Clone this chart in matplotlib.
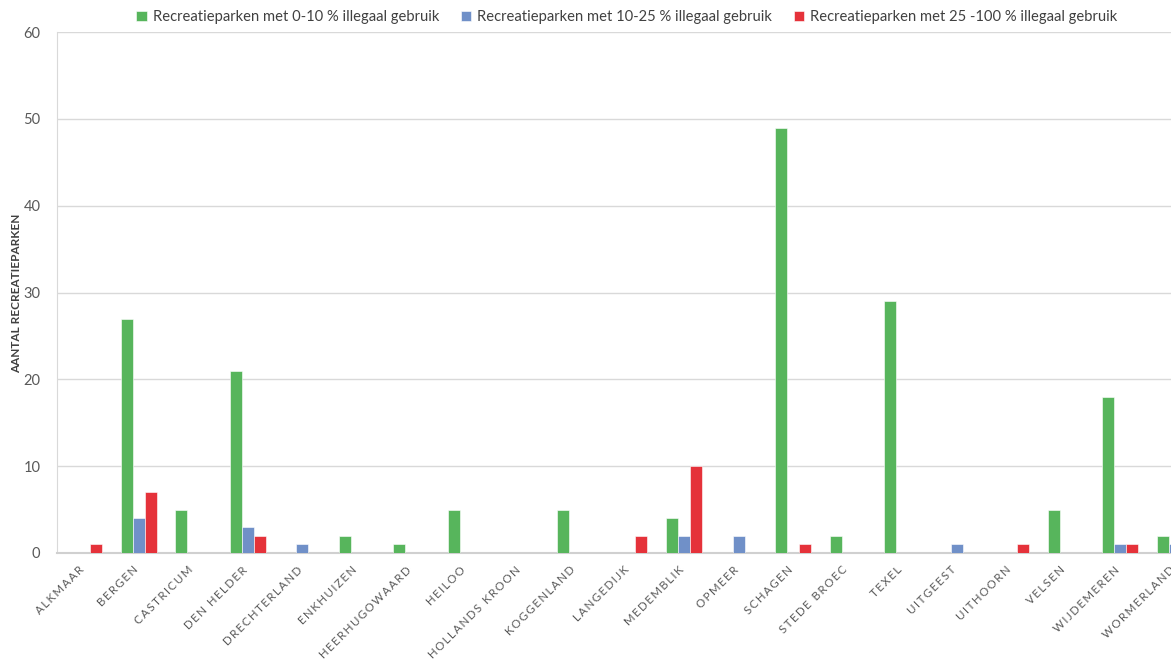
import matplotlib
matplotlib.use("Agg")
import matplotlib.pyplot as plt
import matplotlib.transforms as mtransforms
import numpy as np

categories = ["ALKMAAR", "BERGEN", "CASTRICUM", "DEN HELDER", "DRECHTERLAND", "ENKHUIZEN",
              "HEERHUGOWAARD", "HEILOO", "HOLLANDS KROON", "KOGGENLAND", "LANGEDIJK",
              "MEDEMBLIK", "OPMEER", "SCHAGEN", "STEDE BROEC", "TEXEL", "UITGEEST",
              "UITHOORN", "VELSEN", "WIJDEMEREN", "WORMERLAND"]
s_low = [0, 27, 5, 21, 0, 2, 1, 5, 0, 5, 0, 4, 0, 49, 2, 29, 0, 0, 5, 18, 2]
s_mid = [0, 4, 0, 3, 1, 0, 0, 0, 0, 0, 0, 2, 2, 0, 0, 0, 1, 0, 0, 1, 1]
s_high = [1, 7, 0, 2, 0, 0, 0, 0, 0, 0, 2, 10, 0, 1, 0, 0, 0, 1, 0, 1, 0]
series_names = ["Recreatieparken met 0-10 % illegaal gebruik",
                "Recreatieparken met 10-25 % illegaal gebruik",
                "Recreatieparken met 25 -100 % illegaal gebruik"]
colors = ["#57B55C", "#7090C8", "#E5323A"]

plt.rcParams['font.family'] = ['Lato', 'DejaVu Sans']

fig = plt.figure(figsize=(11.71, 6.60), dpi=100)
ax = fig.add_axes([57/1171, (660-553)/660, (1202-57)/1171, (553-32)/660])

x = np.arange(len(categories))
w = 0.22
for i, (vals, c, name) in enumerate(zip([s_low, s_mid, s_high], colors, series_names)):
    ax.bar(x + (i-1)*w, vals, width=w, color=c, edgecolor='white', linewidth=0.4, label=name, zorder=3)

ax.set_xlim(-0.5, len(categories)-0.5)
ax.set_ylim(0, 60)
ax.set_yticks(range(0, 61, 10))
ax.grid(axis='y', color='#d9d9d9', linewidth=1, zorder=0)
for s in ['top', 'right']:
    ax.spines[s].set_visible(False)
ax.spines['left'].set_color('#d9d9d9')
ax.spines['bottom'].set_color('#d0d0d0')
ax.spines['bottom'].set_linewidth(1.5)
ax.tick_params(axis='both', length=0, colors='#595959', labelsize=10.5)
ax.tick_params(axis='y', pad=12)


def spaced(s):
    return "  ".join("\u2009".join(list(word)) for word in s.split(" "))


ax.set_xticks(x)
ax.set_xticklabels([spaced(c) for c in categories], rotation=45, ha='right',
                   rotation_mode='anchor', fontsize=8.3, color='#595959')
ax.tick_params(axis='x', pad=8)
offset = mtransforms.ScaledTranslation(-6/100, 0, fig.dpi_scale_trans)
for lab in ax.get_xticklabels():
    lab.set_transform(lab.get_transform() + offset)

fig.text(17/1171, 1-293/660, "AANTAL RECREATIEPARKEN", rotation=90, ha='center', va='center',
         fontsize=8.5, color='#404040', fontweight='bold')

leg = fig.legend(loc='center', bbox_to_anchor=(627/1171, 1-17/660), ncol=3, frameon=False,
                 fontsize=10.6, handlelength=0.7, handleheight=0.7, handletextpad=0.4, columnspacing=1.5)
for t in leg.get_texts():
    t.set_color('#404040')

fig.savefig("out.png", dpi=100)
